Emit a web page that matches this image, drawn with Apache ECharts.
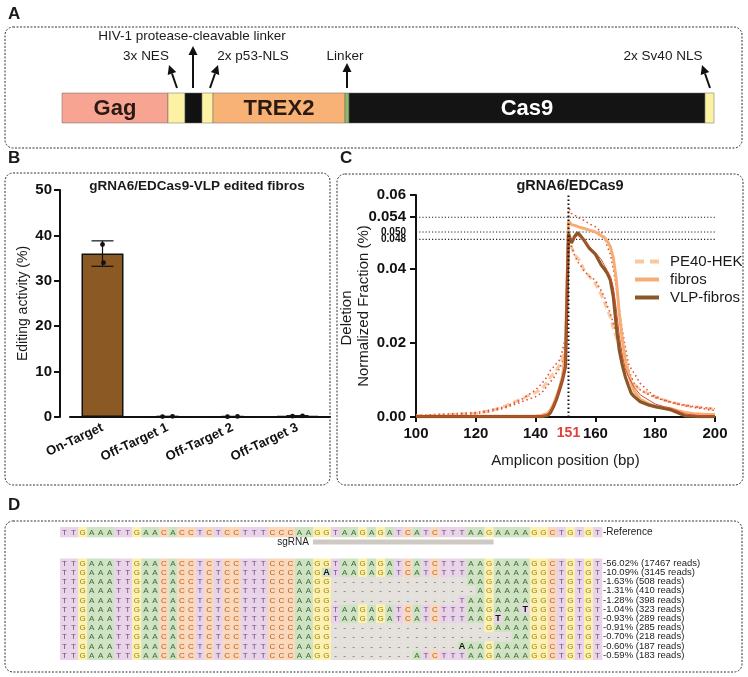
<!DOCTYPE html>
<html><head><meta charset="utf-8">
<script src="https://cdn.jsdelivr.net/npm/echarts@6/dist/echarts.min.js"></script>
<style>html,body{margin:0;padding:0;background:#fff}#c{width:748px;height:677px}</style>
</head><body><div id="c"></div>
<script>
// ================= DATA =================
// Panel A: construct segments (relative lengths)
const segNames   = ['Gag', '3x NES', 'HIV-1 protease-cleavable linker', '2x p53-NLS', 'TREX2', 'Linker', 'Cas9', '2x Sv40 NLS'];
const segLengths = [106, 17, 17, 11, 132, 4, 356, 9];
const segLabels  = ['Gag', '', '', '', 'TREX2', '', 'Cas9', ''];

// Panel B: editing activity
const bCategories = ['On-Target', 'Off-Target 1', 'Off-Target 2', 'Off-Target 3'];
const bMeans      = [36.0, 0.12, 0.10, 0.22];
const bSD         = [2.8, 0.04, 0.04, 0.06];
const bReplicates = [[38.0, 34.0], [0.10, 0.15], [0.08, 0.12], [0.18, 0.26]];

// Panel C: deletion normalized fraction vs amplicon position
const cPositions = [100,105,110,115,120,125,130,135,140,142,144,145,146,147,148,149,150,151,152,153,154,155,156,158,160,162,163,164,165,166,167,168,169,170,171,172,173,175,178,180,183,185,188,190,193,195,198,200];
const cPE40HEK  = [0.0003,0.0004,0.0006,0.0008,0.0010,0.0017,0.0030,0.0048,0.0066,0.0076,0.0095,0.0108,0.0118,0.0128,0.0140,0.0160,0.0190,0.0500,0.0460,0.0440,0.0430,0.0420,0.0400,0.0380,0.0360,0.0330,0.0310,0.0290,0.0270,0.0240,0.0215,0.0190,0.0165,0.0145,0.0120,0.0100,0.0088,0.0073,0.0062,0.0055,0.0046,0.0041,0.0035,0.0032,0.0028,0.0026,0.0022,0.0020];
const cFibros   = [0.0002,0.0002,0.0002,0.0002,0.0002,0.0002,0.0002,0.0002,0.0003,0.0004,0.0010,0.0020,0.0035,0.0055,0.0080,0.0110,0.0180,0.0530,0.0520,0.0518,0.0515,0.0512,0.0510,0.0505,0.0500,0.0490,0.0485,0.0475,0.0460,0.0430,0.0370,0.0280,0.0210,0.0155,0.0120,0.0090,0.0070,0.0048,0.0035,0.0028,0.0025,0.0023,0.0016,0.0012,0.0009,0.0008,0.0007,0.0007];
const cVLPFibros= [0.0001,0.0001,0.0001,0.0001,0.0001,0.0001,0.0001,0.0001,0.0001,0.0001,0.0004,0.0012,0.0028,0.0048,0.0073,0.0100,0.0136,0.0496,0.0470,0.0487,0.0498,0.0490,0.0480,0.0456,0.0440,0.0410,0.0400,0.0388,0.0370,0.0325,0.0244,0.0180,0.0140,0.0109,0.0085,0.0064,0.0055,0.0041,0.0032,0.0028,0.0023,0.0020,0.0010,0.0003,0.0002,0.0001,0.0001,0.0001];
const cRepA     = [0.0004,0.0006,0.0008,0.0010,0.0012,0.0019,0.0028,0.0046,0.0073,0.0090,0.0110,0.0127,0.0135,0.0145,0.0154,0.0180,0.0217,0.0568,0.0550,0.0546,0.0540,0.0536,0.0532,0.0522,0.0514,0.0500,0.0487,0.0460,0.0440,0.0400,0.0350,0.0290,0.0235,0.0190,0.0145,0.0130,0.0118,0.0091,0.0068,0.0055,0.0046,0.0041,0.0035,0.0032,0.0028,0.0026,0.0024,0.0023];
const cRepB     = [0.0002,0.0003,0.0005,0.0007,0.0009,0.0015,0.0025,0.0040,0.0055,0.0065,0.0085,0.0095,0.0105,0.0120,0.0130,0.0150,0.0170,0.0505,0.0460,0.0438,0.0420,0.0410,0.0397,0.0380,0.0370,0.0340,0.0325,0.0300,0.0280,0.0253,0.0230,0.0200,0.0180,0.0155,0.0130,0.0109,0.0090,0.0073,0.0060,0.0052,0.0045,0.0040,0.0034,0.0030,0.0026,0.0024,0.0020,0.0018];
const cRepC     = [0.0002,0.0002,0.0002,0.0002,0.0002,0.0002,0.0002,0.0002,0.0002,0.0003,0.0005,0.0015,0.0030,0.0050,0.0075,0.0100,0.0140,0.0490,0.0480,0.0485,0.0490,0.0488,0.0480,0.0460,0.0445,0.0425,0.0410,0.0395,0.0380,0.0350,0.0290,0.0220,0.0165,0.0130,0.0110,0.0095,0.0080,0.0060,0.0045,0.0035,0.0028,0.0024,0.0015,0.0008,0.0005,0.0003,0.0003,0.0003];
const cYTickValues = [0, 0.02, 0.04, 0.048, 0.050, 0.054, 0.06];
const cYTickLabels = ['0.00', '0.02', '0.04', '0.048', '0.050', '0.054', '0.06'];
const cXTickValues = [100, 120, 140, 151, 160, 180, 200];
const cRefLines    = [0.054, 0.050, 0.048];
const cCutSite     = 151;

// Panel D: allele alignment
const refSeq = 'TTGAAATTGAACACCTCTCCTTTCCCAAGGTAAGAGATCATCTTTAAGAAAAGGCTGTGT';
const sgRNAStart = 29, sgRNAEnd = 48; // 1-based columns
const readSeqs = [
  'TTGAAATTGAACACCTCTCCTTTCCCAAGGTAAGAGATCATCTTTAAGAAAAGGCTGTGT',
  'TTGAAATTGAACACCTCTCCTTTCCCAAGATAAGAGATCATCTTTAAGAAAAGGCTGTGT',
  'TTGAAATTGAACACCTCTCCTTTCCCAAGG---------------AAGAAAAGGCTGTGT',
  'TTGAAATTGAACACCTCTCCTTTCCCAAGG----------------AGAAAAGGCTGTGT',
  'TTGAAATTGAACACCTCTCCTTTCCCAAGG--------------TAAGAAAAGGCTGTGT',
  'TTGAAATTGAACACCTCTCCTTTCCCAAGGTAAGAGATCATCTTTAAGAAATGGCTGTGT',
  'TTGAAATTGAACACCTCTCCTTTCCCAAGGTAAGAGATCATCTTTAAGTAAAGGCTGTGT',
  'TTGAAATTGAACACCTCTCCTTTCCCAAGG-----------------GAAAAGGCTGTGT',
  'TTGAAATTGAACACCTCTCCTTTCCCAAGG--------------------AAGGCTGTGT',
  'TTGAAATTGAACACCTCTCCTTTCCCAAGG--------------AAAGAAAAGGCTGTGT',
  'TTGAAATTGAACACCTCTCCTTTCCCAAGG---------ATCTTTAAGAAAAGGCTGTGT'
];
const readPercents = ['56.02', '10.09', '1.63', '1.31', '1.28', '1.04', '0.93', '0.91', '0.70', '0.60', '0.59'];
const readCounts   = [17467, 3145, 508, 410, 398, 323, 289, 285, 218, 187, 183];

// ================= STYLE =================
const FF = '"Liberation Sans", Arial, Helvetica, sans-serif';
const segColors = ['#f7a493', '#fdf2a4', '#111111', '#fdf2a4', '#f9b276', '#8db96a', '#141414', '#fdf2a4'];
const segTextColors = ['#2a1a12', '#222', '#fff', '#222', '#2a1a12', '#222', '#ffffff', '#222'];
const baseBg = {A: '#cfe2c3', C: '#fbd8bb', G: '#fcf1b3', T: '#e8d3e8', '-': '#e4e0db'};
const baseFg = {A: '#3d6b35', C: '#b25f1c', G: '#a08300', T: '#6e4f7e', '-': '#555'};
const dotOffsets = [[0, 1], [-5, 5], [-5, 5], [-5, 5]];

// ================= BUILD =================
const chart = echarts.init(document.getElementById('c'), null, {renderer: 'canvas', width: 748, height: 677});

const segStarts = [];
segLengths.forEach((l, i) => segStarts.push(i === 0 ? 0 : segStarts[i - 1] + segLengths[i - 1]));
const segTotal = segLengths.reduce((a, b) => a + b, 0);
const segData = segLengths.map((l, i) => [segStarts[i], segStarts[i] + l, 0]);

const dotData = [];
bReplicates.forEach((arr, i) => arr.forEach((v, j) => dotData.push([i, v, j])));
const errData = bMeans.map((m, i) => [i, m, bSD[i]]);

const zip = (xs, ys) => xs.map((x, i) => [x, ys[i]]);

const cols = refSeq.split('').map((_, i) => String(i + 1));
const refCells = refSeq.split('').map((ch, j) => [j, 0]);
const readCells = [], readChars = [];
readSeqs.forEach((s, r) => s.split('').forEach((ch, j) => { readCells.push([j, r]); readChars.push([ch, refSeq[j]]); }));

function seqRender(charsFn) {
  return function (params, api) {
    const c = api.coord([api.value(0), api.value(1)]);
    const sz = api.size([1, 1]);
    const pair = charsFn(params.dataIndex);
    const ch = pair[0], ref = pair[1];
    const bold = ch !== ref && ch !== '-';
    return {type: 'group', children: [
      {type: 'rect', shape: {x: c[0] - sz[0] / 2, y: c[1] - sz[1] / 2, width: sz[0] + 0.3, height: sz[1] + 0.3}, style: {fill: baseBg[ch]}},
      {type: 'text', style: {text: ch, x: c[0], y: c[1] + 0.5, align: 'center', verticalAlign: 'middle',
        font: (bold ? 'bold 9px ' : '8px ') + FF, fill: bold ? '#111' : baseFg[ch]}}
    ]};
  };
}

function arrow(x1, y1, x2, y2) {
  const ang = Math.atan2(y2 - y1, x2 - x1);
  const L = 9, W = 4.5;
  const bx = x2 - L * Math.cos(ang), by = y2 - L * Math.sin(ang);
  const px = -Math.sin(ang) * W, py = Math.cos(ang) * W;
  return [
    {type: 'line', shape: {x1: x1, y1: y1, x2: bx, y2: by}, style: {stroke: '#111', lineWidth: 2}},
    {type: 'polygon', shape: {points: [[x2, y2], [bx + px, by + py], [bx - px, by - py]]}, style: {fill: '#111'}}
  ];
}
function box(x, y, w, h) {
  return {type: 'rect', shape: {x: x, y: y, width: w, height: h, r: 8}, style: {fill: 'none', stroke: '#333', lineWidth: 1, lineDash: [2, 1.5]}, z: -1};
}
function txt(text, x, y, font, opts) {
  return {type: 'text', x: x, y: y, style: Object.assign({text: text, font: font, fill: '#1a1a1a', align: 'center', verticalAlign: 'middle'}, opts || {})};
}

const graphics = [
  box(5, 27, 737, 121), box(5, 173, 325, 312), box(337, 174, 406, 311), box(5, 521, 737, 151),
  txt('A', 8, 14, 'bold 17px ' + FF, {align: 'left'}),
  txt('B', 8, 158, 'bold 17px ' + FF, {align: 'left'}),
  txt('C', 340, 158, 'bold 17px ' + FF, {align: 'left'}),
  txt('D', 8, 505, 'bold 17px ' + FF, {align: 'left'}),
  txt('HIV-1 protease-cleavable linker', 192, 36, '13.5px ' + FF),
  txt('3x NES', 146, 56, '13.5px ' + FF),
  txt('2x p53-NLS', 253, 56, '13.5px ' + FF),
  txt('Linker', 345, 56, '13.5px ' + FF),
  txt('2x Sv40 NLS', 663, 56, '13.5px ' + FF),
  ...arrow(177, 88, 169, 65), ...arrow(193, 88, 193, 46), ...arrow(210, 88, 218, 65),
  ...arrow(347, 88, 347, 63), ...arrow(710, 88, 702, 65),
  txt('gRNA6/EDCas9-VLP edited fibros', 197, 186, 'bold 13.5px ' + FF),
  txt('gRNA6/EDCas9', 570, 186, 'bold 14.5px ' + FF),
  {type: 'text', x: 347, y: 318, rotation: Math.PI / 2, style: {text: 'Deletion', font: '15px ' + FF, fill: '#1a1a1a', align: 'center', verticalAlign: 'middle'}}
];

const lineBase = {type: 'line', xAxisIndex: 2, yAxisIndex: 2, symbol: 'none', showSymbol: false, silent: true};

const refLineSeries = cRefLines.map((v, k) => Object.assign({}, lineBase, {
  name: 'ref' + k, data: [[100, v], [200, v]], z: 1,
  lineStyle: {color: '#222', width: 1.1, type: [1.2, 2]}
}));
const cutLineSeries = Object.assign({}, lineBase, {
  name: 'cut', data: [[cCutSite, 0], [cCutSite, 0.06]], z: 7,
  lineStyle: {color: '#111', width: 2, type: [1.5, 2.5]}
});

const option = {
  animation: false,
  textStyle: {fontFamily: FF},
  legend: {
    data: [
      {name: 'PE40-HEK', icon: 'path://M0,0h9v4h-9z M15,0h9v4h-9z'},
      {name: 'fibros', icon: 'path://M0,0h24v4h-24z'},
      {name: 'VLP-fibros', icon: 'path://M0,0h24v4h-24z'}
    ],
    orient: 'vertical', left: 630, top: 249,
    itemWidth: 24, itemHeight: 4, itemGap: 3, textStyle: {fontSize: 15, color: '#1a1a1a', fontFamily: FF, padding: [0, 0, 0, 6]}
  },
  graphic: graphics,
  grid: [
    {left: 62, top: 93, width: segTotal, height: 30},
    {left: 70, top: 190, width: 260, height: 227},
    {left: 416, top: 195, width: 299, height: 222},
    {left: 60, top: 527, width: 542, height: 20},
    {left: 60, top: 558.5, width: 542, height: 101.2}
  ],
  xAxis: [
    {gridIndex: 0, type: 'value', min: 0, max: segTotal, show: false},
    {gridIndex: 1, type: 'category', data: bCategories,
      axisLine: {lineStyle: {color: '#111', width: 2}},
      axisTick: {alignWithLabel: true, length: 5, lineStyle: {width: 2, color: '#111'}},
      axisLabel: {rotate: 25, interval: 0, margin: 10, fontSize: 13, fontWeight: 'bold', color: '#111', fontFamily: FF}},
    {gridIndex: 2, type: 'value', min: 100, max: 200,
      name: 'Amplicon position (bp)', nameLocation: 'middle', nameGap: 36, nameMoveOverlap: false,
      nameTextStyle: {fontSize: 15, color: '#1a1a1a', fontFamily: FF},
      splitLine: {show: false},
      axisLine: {lineStyle: {color: '#111', width: 2}},
      axisTick: {customValues: [100, 120, 140, 160, 180, 200], length: 5, lineStyle: {width: 2, color: '#111'}},
      axisLabel: {customValues: cXTickValues, margin: 9, fontSize: 15, fontWeight: 'bold', color: '#111', fontFamily: FF,
        formatter: v => v === cCutSite ? '{r|' + v + '}' : String(v),
        rich: {r: {color: '#e0403a', fontSize: 14, fontWeight: 'bold', fontFamily: FF}}}},
    {gridIndex: 3, type: 'category', data: cols, show: false},
    {gridIndex: 4, type: 'category', data: cols, show: false}
  ],
  yAxis: [
    {gridIndex: 0, type: 'category', data: ['construct'], show: false},
    {gridIndex: 1, type: 'value', min: 0, max: 50, interval: 10, offset: 10,
      name: 'Editing activity (%)', nameLocation: 'middle', nameGap: 30, nameMoveOverlap: false,
      nameTextStyle: {fontSize: 14, color: '#1a1a1a', fontFamily: FF},
      splitLine: {show: false},
      axisLine: {show: true, lineStyle: {color: '#111', width: 2}},
      axisTick: {show: true, length: 6, lineStyle: {width: 2, color: '#111'}},
      axisLabel: {margin: 8, fontSize: 15, fontWeight: 'bold', color: '#111', fontFamily: FF}},
    {gridIndex: 2, type: 'value', min: 0, max: 0.06,
      name: 'Normalized Fraction (%)', nameLocation: 'middle', nameGap: 45, nameMoveOverlap: false,
      nameTextStyle: {fontSize: 15, color: '#1a1a1a', fontFamily: FF},
      splitLine: {show: false},
      axisLine: {show: true, lineStyle: {color: '#111', width: 2}},
      axisTick: {show: true, customValues: [0, 0.02, 0.04, 0.054, 0.06], length: 6, lineStyle: {width: 2, color: '#111'}},
      axisLabel: {customValues: cYTickValues, margin: 10, color: '#111', fontFamily: FF,
        formatter: v => {
          const k = cYTickValues.findIndex(t => Math.abs(t - v) < 1e-9);
          const s = k >= 0 ? cYTickLabels[k] : String(v);
          return (s.length > 4 && s !== '0.054') ? '{s|' + s + '}' : '{b|' + s + '}';
        },
        rich: {b: {fontSize: 15, fontWeight: 'bold', color: '#111', fontFamily: FF},
               s: {fontSize: 10, fontWeight: 'bold', color: '#111', fontFamily: FF, lineHeight: 8}}}},
    {gridIndex: 3, type: 'category', data: ['-Reference', ''], inverse: true, position: 'right',
      axisLine: {show: false}, axisTick: {show: false},
      axisLabel: {margin: 1, fontSize: 10, color: '#222', fontFamily: FF}},
    {gridIndex: 4, type: 'category', inverse: true, position: 'right',
      data: readPercents.map((p, i) => '-' + p + '% (' + readCounts[i] + ' reads)'),
      axisLine: {show: false}, axisTick: {show: false},
      axisLabel: {margin: 1, fontSize: 9.5, color: '#222', fontFamily: FF, interval: 0}}
  ],
  series: [
    // Panel A
    {type: 'custom', xAxisIndex: 0, yAxisIndex: 0, data: segData, encode: {x: [0, 1], y: 2}, silent: true,
      renderItem: (params, api) => {
        const i = params.dataIndex;
        const p1 = api.coord([api.value(0), 0]), p2 = api.coord([api.value(1), 0]);
        const h = api.size([0, 1])[1];
        return {type: 'group', children: [
          {type: 'rect', shape: {x: p1[0], y: p1[1] - h / 2, width: p2[0] - p1[0], height: h}, style: {fill: segColors[i], stroke: '#666', lineWidth: 0.5}},
          {type: 'text', style: {text: segLabels[i], x: (p1[0] + p2[0]) / 2, y: p1[1] + 1, align: 'center', verticalAlign: 'middle',
            font: 'bold 22px ' + FF, fill: segTextColors[i]}}
        ]};
      }},
    // Panel B
    {type: 'bar', xAxisIndex: 1, yAxisIndex: 1, data: bMeans, barWidth: 42, silent: true,
      itemStyle: {color: '#8b5a24', borderColor: '#111', borderWidth: 1.5}},
    {type: 'custom', xAxisIndex: 1, yAxisIndex: 1, data: errData, encode: {x: 0, y: 1}, silent: true, z: 5,
      renderItem: (params, api) => {
        const i = api.value(0), m = api.value(1), sd = api.value(2);
        const t = api.coord([i, m + sd]), b = api.coord([i, m - sd]);
        const cw = 11;
        const st = {stroke: '#111', lineWidth: 1.2};
        return {type: 'group', children: [
          {type: 'line', shape: {x1: t[0], y1: t[1], x2: t[0], y2: b[1]}, style: st},
          {type: 'line', shape: {x1: t[0] - cw, y1: t[1], x2: t[0] + cw, y2: t[1]}, style: st},
          {type: 'line', shape: {x1: b[0] - cw, y1: b[1], x2: b[0] + cw, y2: b[1]}, style: st}
        ]};
      }},
    {type: 'custom', xAxisIndex: 1, yAxisIndex: 1, data: dotData, encode: {x: 0, y: 1}, silent: true, z: 6,
      renderItem: (params, api) => {
        const i = api.value(0), v = api.value(1), j = api.value(2);
        const p = api.coord([i, v]);
        return {type: 'circle', shape: {cx: p[0] + dotOffsets[i][j], cy: p[1], r: 2.4}, style: {fill: '#111'}};
      }},
    // Panel C
    ...refLineSeries,
    Object.assign({}, lineBase, {name: 'PE40-HEK', data: zip(cPositions, cPE40HEK), z: 2,
      lineStyle: {color: '#f8c89e', width: 3, type: [7, 4]}, itemStyle: {color: '#f8c89e'}}),
    Object.assign({}, lineBase, {name: 'repA', data: zip(cPositions, cRepA), z: 3,
      lineStyle: {color: '#e0503a', width: 1.6, type: [1.5, 3]}}),
    Object.assign({}, lineBase, {name: 'repB', data: zip(cPositions, cRepB), z: 3,
      lineStyle: {color: '#e0503a', width: 1.6, type: [1.5, 3]}}),
    Object.assign({}, lineBase, {name: 'fibros', data: zip(cPositions, cFibros), z: 4,
      lineStyle: {color: '#f6ad74', width: 3}, itemStyle: {color: '#f6ad74'}}),
    Object.assign({}, lineBase, {name: 'VLP-fibros', data: zip(cPositions, cVLPFibros), z: 5,
      lineStyle: {color: '#8a5726', width: 3.2}, itemStyle: {color: '#8a5726'}}),
    Object.assign({}, lineBase, {name: 'repC', data: zip(cPositions, cRepC), z: 6,
      lineStyle: {color: '#d9482f', width: 1}}),
    cutLineSeries,
    // Panel D: reference row
    {type: 'custom', xAxisIndex: 3, yAxisIndex: 3, data: refCells, encode: {x: 0, y: 1}, silent: true,
      renderItem: seqRender(i => [refSeq[i], refSeq[i]])},
    {type: 'custom', xAxisIndex: 3, yAxisIndex: 3, data: [[sgRNAStart - 1, sgRNAEnd - 1, 1]], encode: {x: [0, 1], y: 2}, silent: true,
      renderItem: (params, api) => {
        const a = api.coord([api.value(0), 1]), b = api.coord([api.value(1), 1]);
        const w = api.size([1, 1])[0];
        const x0 = a[0] - w / 2, x1 = b[0] + w / 2;
        return {type: 'group', children: [
          {type: 'rect', shape: {x: x0, y: a[1] - 2.5, width: x1 - x0, height: 5}, style: {fill: '#cfc9c3'}},
          {type: 'text', style: {text: 'sgRNA', x: x0 - 4, y: a[1], align: 'right', verticalAlign: 'middle', font: '10px ' + FF, fill: '#222'}}
        ]};
      }},
    // Panel D: read rows
    {type: 'custom', xAxisIndex: 4, yAxisIndex: 4, data: readCells, encode: {x: 0, y: 1}, silent: true,
      renderItem: seqRender(i => readChars[i])}
  ]
};
chart.setOption(option);
</script>
</body></html>
